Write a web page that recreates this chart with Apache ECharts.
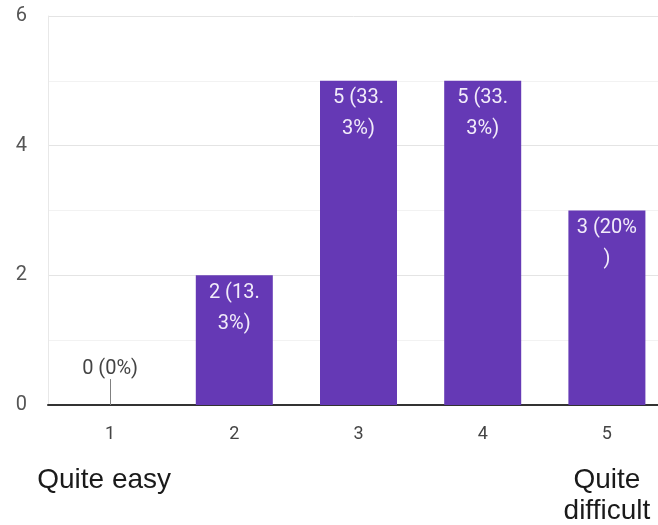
<!DOCTYPE html>
<html>
<head>
<meta charset="utf-8">
<style>
  html, body { margin: 0; padding: 0; background: #ffffff; }
  #chart { width: 658px; height: 525px; }
</style>
<script src="https://cdn.jsdelivr.net/npm/echarts@6/dist/echarts.min.js"></script>
</head>
<body>
<div id="chart"></div>
<script>
// Rating scale 1..5 and number of responses for each
const categories = ['1', '2', '3', '4', '5'];
const counts = [0, 2, 5, 5, 3];
// Scale end descriptions shown under the first and last ratings
const scaleEnds = { '1': 'Quite easy', '5': 'Quite\ndifficult' };
const yTicks = [0, 2, 4, 6];

const total = counts.reduce((a, b) => a + b, 0);
const BAR_COLOR = '#6539b5';

// "n (p%)" wrapped after six characters, like the narrow bar labels
function countLabel(v) {
  const pct = Math.round(v / total * 1000) / 10;
  const s = v + ' (' + pct + '%)';
  return s.length > 6 ? s.slice(0, 6) + '\n' + s.slice(6) : s;
}

const barData = counts.map(v => {
  if (v === 0) {
    return {
      value: v,
      label: { position: 'top', distance: 21, color: '#444444' }
    };
  }
  return v;
});

// Thin leader from the baseline up to the label of an empty bar
const zeroLeaders = [];
counts.forEach((v, i) => {
  if (v === 0) {
    zeroLeaders.push([{ coord: [categories[i], 0] }, { coord: [categories[i], 0.4] }]);
  }
});

const chart = echarts.init(document.getElementById('chart'));
chart.setOption({
  animation: false,
  backgroundColor: '#ffffff',
  grid: { left: 48, right: -11, top: 16, bottom: 120, containLabel: false, outerBoundsMode: 'none' },
  xAxis: {
    type: 'category',
    data: categories,
    axisLine: { show: true, lineStyle: { color: '#333333', width: 2 } },
    axisTick: { show: false },
    axisLabel: {
      interval: 0,
      margin: 18,
      fontFamily: 'Arial, "Liberation Sans", sans-serif',
      formatter: function (val, idx) {
        let s = '{n|' + val + '}';
        if (scaleEnds[val]) {
          // the low-end description sits a little left of its rating
          const style = idx === 0 ? 'e' : 'd';
          s += '\n{s| }\n' + scaleEnds[val].split('\n').map(t => '{' + style + '|' + t + '}').join('\n');
        }
        return s;
      },
      rich: {
        n: { fontSize: 18, lineHeight: 22, color: '#444444', fontFamily: 'Roboto, Arial, sans-serif' },
        s: { fontSize: 10, lineHeight: 20 },
        d: { fontSize: 28, lineHeight: 31, color: '#1a1a1a', fontFamily: 'Arial, "Liberation Sans", sans-serif' },
        e: { fontSize: 28, lineHeight: 31, color: '#1a1a1a', padding: [0, 12, 0, 0], fontFamily: 'Arial, "Liberation Sans", sans-serif' }
      }
    }
  },
  yAxis: {
    type: 'value',
    min: 0,
    max: yTicks[yTicks.length - 1],
    interval: 1,
    axisLine: { show: true, lineStyle: { color: '#e8e8e8', width: 1 } },
    axisTick: { show: false },
    axisLabel: {
      margin: 21,
      fontSize: 20,
      color: '#555555',
      fontFamily: 'Roboto, Arial, sans-serif',
      formatter: v => (yTicks.indexOf(v) >= 0 ? String(v) : '')
    },
    splitLine: { show: true, lineStyle: { color: ['#e4e4e4', '#f2f2f2'], width: 1 } }
  },
  series: [{
    type: 'bar',
    data: barData,
    barWidth: 77,
    itemStyle: { color: BAR_COLOR },
    label: {
      show: true,
      position: 'insideTop',
      distance: 2,
      color: '#f2ecfa',
      fontSize: 20,
      lineHeight: 31,
      fontFamily: 'Roboto, Arial, sans-serif',
      formatter: p => countLabel(p.value)
    },
    markLine: {
      silent: true,
      symbol: 'none',
      label: { show: false },
      lineStyle: { color: '#808080', width: 1, type: 'solid' },
      data: zeroLeaders
    }
  }]
});
</script>
</body>
</html>
